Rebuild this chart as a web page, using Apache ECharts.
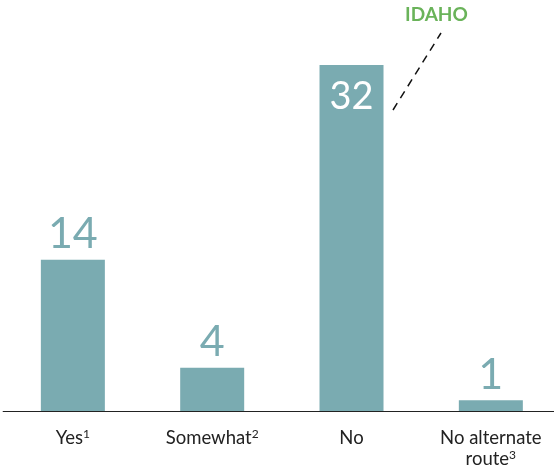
<!DOCTYPE html>
<html>
<head>
<meta charset="utf-8">
<script src="https://cdn.jsdelivr.net/npm/echarts@6/dist/echarts.min.js"></script>
<style>
	html, body { margin: 0; padding: 0; background: #fff; }
	#chart { width: 554px; height: 472px; }
</style>
</head>
<body>
<div id="chart"></div>
<script>
// 数据
const categories = ["Yes¹", "Somewhat²", "No", "No alternate\nroute³"];
const counts = [14, 4, 32, 1];
const insideIndex = 2; // "32" 写在柱子里面
const annotationText = "IDAHO";

const barColor = "#7aabb1";
const labelColor = "#7aabb1";
const supDigits = { "¹": "1", "²": "2", "³": "3" };

const chart = echarts.init(document.getElementById("chart"));

// 把上标字符换成富文本
function formatCategory(v) {
	return v
		.split("\n")
		.map((line) => {
			const m = line.match(/^(.*?)([¹²³]?)$/);
			return "{t|" + m[1] + "}" + (m[2] ? "{sup|" + supDigits[m[2]] + "}" : "");
		})
		.join("\n");
}

const option = {
	animation: false,
	grid: {
		left: 3.2,
		right: -6.5, // 右侧稍微超出画布
		top: 65,
		bottom: 61,
		outerBoundsMode: "none",
		containLabel: false,
	},
	xAxis: {
		type: "category",
		data: categories,
		axisLine: { lineStyle: { color: "#222", width: 1.2 } },
		axisTick: { show: false },
		axisLabel: {
			interval: 0,
			margin: 17,
			fontFamily: "Lato",
			fontSize: 18.5,
			lineHeight: 21,
			color: "#222",
			formatter: formatCategory,
			rich: {
				t: { fontFamily: "Lato", fontSize: 18.5, lineHeight: 21, color: "#222" },
				sup: { fontFamily: "Lato", fontSize: 12, lineHeight: 21, color: "#222", verticalAlign: "top", padding: [0, 0, 5, 0] },
			},
		},
	},
	yAxis: {
		type: "value",
		min: 0,
		max: 32,
		show: false,
		splitLine: { show: false },
	},
	series: [
		{
			type: "bar",
			barWidth: 64,
			itemStyle: { color: barColor },
			data: counts.map((v, i) => ({
				value: v,
				label:
					i === insideIndex
						? { position: "insideTop", distance: 13, color: "#fff", fontSize: 38 }
						: { position: "top", distance: 4, color: labelColor, fontSize: 43 },
			})),
			label: {
				show: true,
				fontFamily: "Lato",
			},
		},
	],
	graphic: [
		{
			type: "text",
			left: 405,
			top: 5,
			style: {
				text: annotationText,
				fill: "#6ab35a",
				font: "bold 19px Lato",
			},
		},
		{
			type: "line",
			shape: { x1: 393, y1: 110, x2: 441, y2: 33 },
			style: { stroke: "#111", lineWidth: 1.5, lineDash: [8, 6] },
		},
	],
};

chart.setOption(option);
</script>
</body>
</html>
